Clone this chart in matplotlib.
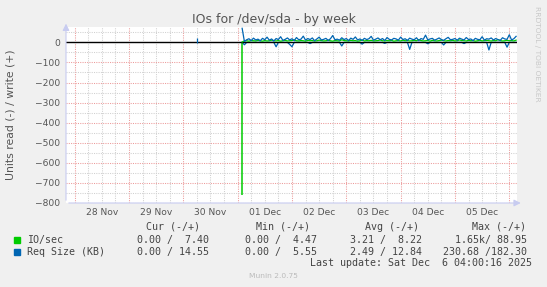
import numpy as np
import matplotlib.pyplot as plt
from matplotlib.patches import Rectangle

# hours counted from 28 Nov 00:00
day_labels = ['28 Nov', '29 Nov', '30 Nov', '01 Dec', '02 Dec', '03 Dec', '04 Dec', '05 Dec']
start_hour = 74

# write side (+), one value per hour from start_hour
io_write = [2,
            7, 8, 6, 9, 8, 7, 10, 8, 6, 9,
            7, 8, 11, 8, 7, 9, 6, 8, 10, 7,
            8, 9, 12, 8, 7, 9, 8, 6, 10, 8,
            9, 7, 8, 11, 9, 7, 8, 10, 8, 6,
            9, 8, 7, 13, 9, 8, 7, 10, 8, 9,
            6, 8, 11, 7, 9, 8, 10, 7, 8, 9,
            12, 8, 7, 9, 8, 10, 6, 8, 9, 7,
            11, 8, 9, 7, 8, 10, 8, 14, 9, 7,
            8, 9, 6, 10, 8, 7, 9, 11, 8, 7,
            9, 8, 10, 7, 8, 12, 9, 8, 7, 10,
            8, 9, 6, 8, 11, 7, 9, 10, 8, 7,
            9, 8, 13, 9, 7, 8, 10, 8, 9, 7,
            11]
req_write = [70,
             4, 13, 18, 9, 21, 12, 16, 8, 20, 13,
             26, 11, 17, 7, 19, 14, 28, 10, 15, 22,
             12, 18, 9, 24, 13, 16, 31, 11, 19, 14,
             22, 8, 17, 26, 12, 15, 20, 10, 18, 34,
             13, 16, 11, 23, 14, 19, 9, 21, 15, 27,
             12, 17, 10, 20, 14, 18, 30, 11, 16, 22,
             13, 19, 9, 24, 15, 12, 20, 17, 11, 26,
             14, 18, 10, 21, 16, 13, 23, 9, 19, 15,
             36, 12, 17, 20, 11, 16, 22, 14, 10, 18,
             25, 13, 15, 19, 11, 21, 16, 12, 24, 14,
             17, 9, 20, 15, 13, 28, 11, 18, 16, 22,
             12, 19, 14, 10, 23, 17, 15, 38, 12, 18,
             30]

# read side (-), only the hours where it is not zero
io_read_hours = [74]
io_read_vals = [760]
req_read_hours = [75, 89, 95, 96, 104, 118, 127, 137, 148, 156, 163, 172, 183, 191]
req_read_vals = [12, 22, 10, 22, 6, 18, 9, 5, 35, 7, 13, 6, 38, 24]

# lone sample on 30 Nov
blip_hour = 54
blip_write = 23
blip_read = 5

legend_names = ['IO/sec', 'Req Size (KB)']
headers = ['Cur (-/+)', 'Min (-/+)', 'Avg (-/+)', 'Max (-/+)']
io_stats = ['0.00 /  7.40', '0.00 /  4.47', '3.21 /  8.22', '1.65k/ 88.95']
req_stats = ['0.00 / 14.55', '0.00 /  5.55', '2.49 / 12.84', '230.68 /182.30']

GREEN = '#00CC00'
BLUE = '#0066B3'
W, H = 547, 287

hours = start_hour + np.arange(len(req_write))
req_read = np.zeros(len(hours))
for h, v in zip(req_read_hours, req_read_vals):
    req_read[h - start_hour] = v

fig = plt.figure(figsize=(W / 100, H / 100), dpi=100, facecolor='#F0F0F0')
ax = fig.add_axes([66 / W, 1 - 203 / H, (517 - 66) / W, (203 - 26.7) / H])
ax.set_facecolor('white')

# grid
dots = (0, (1, 1.2))
for h in range(-6, 200, 6):
    c = '#EC9A9A' if h % 24 == 0 else '#D0D0D0'
    ax.axvline(h, color=c, lw=0.75, ls=dots, zorder=1)
for v in range(-800, 80, 50):
    c = '#EC9A9A' if v % 100 == 0 else '#D0D0D0'
    ax.axhline(v, color=c, lw=0.75, ls=dots, zorder=1)

ax.plot(hours, -req_read, color=BLUE, lw=0.9, zorder=2)
ax.vlines(io_read_hours, [-v for v in io_read_vals], 0, color=GREEN, lw=1.1, zorder=2)
ax.axhline(0, color='black', lw=1.0, zorder=3)
ax.vlines(blip_hour, -blip_read, blip_write, color=BLUE, lw=0.9, zorder=4)
ax.plot(hours, io_write, color=GREEN, lw=0.9, zorder=4)
ax.plot(hours, req_write, color=BLUE, lw=0.9, zorder=5)

ax.set_xlim(-3.8, 195.4)
ax.set_ylim(-800, 78)
for s in ax.spines.values():
    s.set_visible(False)
ax.set_xticks([])
ax.set_yticks(range(-800, 1, 100))
ax.tick_params(axis='y', length=0, pad=4.3, labelsize=6.6, labelcolor='#555555')

for i, lab in enumerate(day_labels):
    ax.text(12 + 24 * i, -0.055, lab, transform=ax.get_xaxis_transform(),
            ha='center', va='center', fontsize=6.6, color='#555555')

# axis lines with arrows
axis_c = '#C8CCF0'
ax.annotate('', xy=(0, 1.033), xytext=(0, 0), xycoords='axes fraction',
            arrowprops=dict(arrowstyle='-|>,head_length=0.4,head_width=0.2', color=axis_c, lw=0.8),
            annotation_clip=False)
ax.annotate('', xy=(1.0145, 0), xytext=(0, 0), xycoords='axes fraction',
            arrowprops=dict(arrowstyle='-|>,head_length=0.4,head_width=0.2', color=axis_c, lw=0.8),
            annotation_clip=False)


def px(x, y):
    return x / W, 1 - y / H


fig.text(*px(273.5, 19), 'IOs for /dev/sda - by week', ha='center', va='center',
         fontsize=9, color='#555555')
fig.text(*px(11, 115), 'Units read (-) / write (+)', rotation=90, ha='center', va='center',
         fontsize=7.8, color='#555555')
fig.text(*px(537, 6), 'RRDTOOL / TOBI OETIKER', rotation=270, ha='center', va='top',
         fontsize=5.4, color='#C8C8C8')

mono = dict(family='DejaVu Sans Mono', fontsize=7.2, color='#444444', va='center')
head_x = [200, 309.8, 419, 526.3]
val_x = [209.4, 316.8, 422.5, 526.6]
for x, t in zip(head_x, headers):
    fig.text(*px(x, 226.7), t, ha='right', **mono)
for row_y, name, color, stats in [(240, legend_names[0], GREEN, io_stats),
                                  (251.7, legend_names[1], BLUE, req_stats)]:
    fig.add_artist(Rectangle(px(14, row_y + 3), 6 / W, 5.7 / H,
                             transform=fig.transFigure, color=color))
    fig.text(*px(26.7, row_y), name, ha='left', **mono)
    for x, t in zip(val_x, stats):
        fig.text(*px(x, row_y), t, ha='right', **mono)
fig.text(*px(532.3, 263.3), 'Last update: Sat Dec  6 04:00:16 2025', ha='right', **mono)
fig.text(*px(273.7, 276), 'Munin 2.0.75', ha='center', va='center', fontsize=5.4, color='#BBBBBB')

fig.savefig('out.png', dpi=100, facecolor=fig.get_facecolor())
